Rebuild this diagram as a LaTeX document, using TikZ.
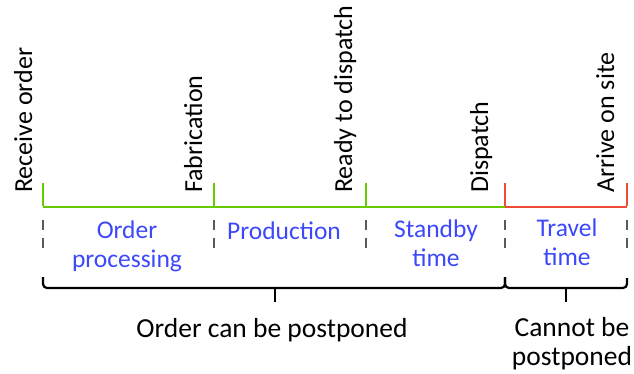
\documentclass[tikz,border=0pt]{standalone}
\usepackage{fontspec}
\setmainfont{Carlito}
\definecolor{tlgreen}{RGB}{102,204,0}
\definecolor{tlred}{RGB}{238,74,56}
\definecolor{tlblue}{RGB}{60,72,250}
\definecolor{tlgray}{RGB}{90,90,90}
\tikzset{
  vlabel/.style={rotate=90,anchor=base west,inner sep=0pt,font=\fontsize{26}{31}\selectfont},
  phase/.style={align=center,text=tlblue,inner sep=0pt,font=\fontsize{25.5}{28.5}\selectfont,anchor=base},
  note/.style={align=center,inner sep=0pt,font=\fontsize{27.5}{29}\selectfont,anchor=base},
  tl/.style={line width=2.6pt},
  gdash/.style={tlgray,line width=2.4pt,dash pattern=on 10pt off 8pt},
  bracel/.style={line width=2.2pt,rounded corners=4pt},
}
\begin{document}
\begin{tikzpicture}[x=1pt,y=-1pt]
\useasboundingbox (0,0) rectangle (634,374);
% tick coordinates
\coordinate (t0) at (43,207);
\coordinate (t1) at (214,207);
\coordinate (t2) at (366,207);
\coordinate (t3) at (505,207);
\coordinate (t4) at (627,207);
% dashed separators
\foreach \i in {0,...,4}{
  \draw[gdash] ([yshift=-13pt]t\i) -- ([yshift=-43pt]t\i);
}
% timeline
\draw[tl,tlgreen] (t0) -- (t3);
\draw[tl,tlred] (t3) -- (t4);
\foreach \i in {0,1,2}{\draw[tl,tlgreen] ([yshift=1.3pt]t\i) -- ([yshift=24pt]t\i);}
\foreach \i in {3,4}{\draw[tl,tlred] ([yshift=1.3pt]t\i) -- ([yshift=24pt]t\i);}
% milestone labels
\node[vlabel] (recv) at (32,193) {Receive order};
\node[vlabel] (fab) at (202,193) {Fabrication};
\node[vlabel] (ready) at (352,193) {Ready to dispatch};
\node[vlabel] (disp) at (488,193) {Dispatch};
\node[vlabel] (arr) at (614,193) {Arrive on site};
% phase labels
\node[phase] (p1) at (127,267) {Order\\processing};
\node[phase] (p2) at (284,239) {Production};
\node[phase] (p3) at (436,266) {Standby\\time};
\node[phase] (p4) at (567,265) {Travel\\time};
% braces
\coordinate (b0) at (43,277);
\coordinate (b1) at (505,277);
\coordinate (b2) at (627,278);
\coordinate (m1) at (275,288);
\coordinate (m2) at (566,288);
\draw[bracel] (b0) |- (m1) -| (b1);
\draw[bracel] (b1) |- (m2) -| (b2);
\draw[line width=2.2pt] (m1) -- ++(0,14);
\draw[line width=2.2pt] (m2) -- ++(0,14);
% notes
\node[note] (n1) at (272,337) {Order can be postponed};
\node[note] (n2) at (572,365) {Cannot be\\postponed};
\end{tikzpicture}
\end{document}
